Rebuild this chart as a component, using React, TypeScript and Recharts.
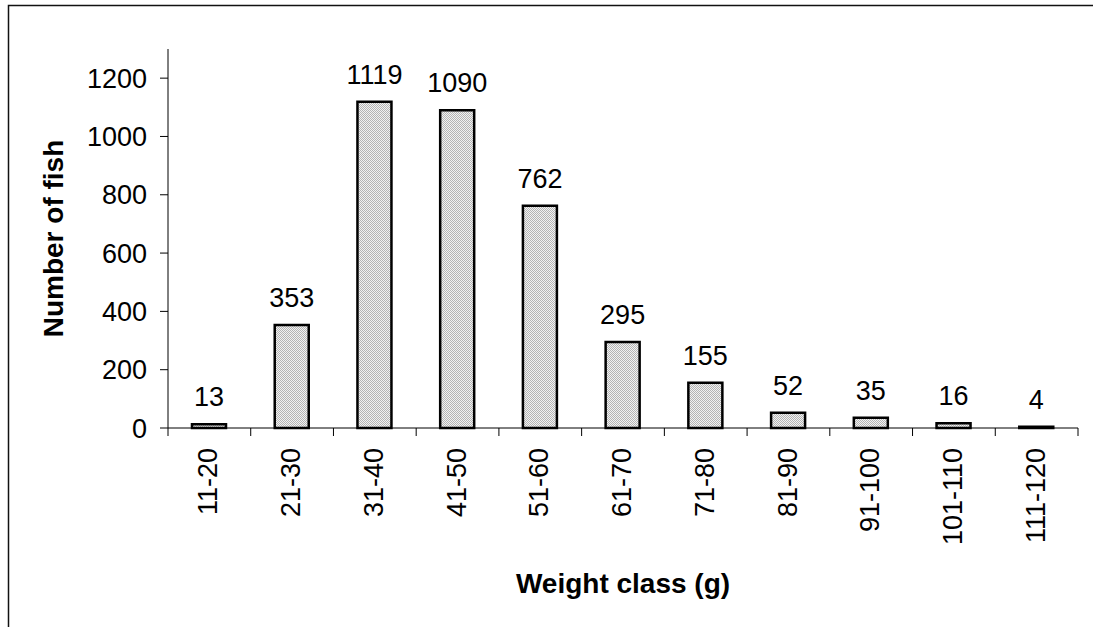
import React from "react";
import { BarChart, Bar, XAxis, YAxis, LabelList } from "recharts";

const weightClasses = [
  "11-20",
  "21-30",
  "31-40",
  "41-50",
  "51-60",
  "61-70",
  "71-80",
  "81-90",
  "91-100",
  "101-110",
  "111-120",
];
const fishCounts = [13, 353, 1119, 1090, 762, 295, 155, 52, 35, 16, 4];
const yTicks = [0, 200, 400, 600, 800, 1000, 1200];

const data = weightClasses.map((cls, i) => ({ cls, count: fishCounts[i] }));

const W = 1093;
const H = 627;
const margin = { top: 49, right: 15, left: 0, bottom: 0 };
const yAxisWidth = 168;
const xAxisHeight = 199;
const band = (W - yAxisWidth - margin.right) / weightClasses.length;

const font = "'Liberation Sans', Arial, sans-serif";

function XTick(props: any) {
  const { x, y, payload, index } = props;
  const left = x - band / 2;
  const last = index === weightClasses.length - 1;
  return (
    <g>
      <line x1={left} y1={y} x2={left} y2={y + 8} stroke="#000" strokeWidth={1} />
      {last && (
        <line x1={x + band / 2} y1={y} x2={x + band / 2} y2={y + 8} stroke="#000" strokeWidth={1} />
      )}
      <text
        x={0}
        y={0}
        transform={`translate(${x},${y + 20}) rotate(-90)`}
        textAnchor="end"
        dy="0.3em"
        fontSize={27}
        fontFamily={font}
        fill="#000"
      >
        {payload.value}
      </text>
    </g>
  );
}

export default function App() {
  return (
    <div style={{ position: "fixed", left: 0, top: 0, width: W, height: H, overflow: "hidden", background: "#fff" }}>
      <style>{"html,body{margin:0;overflow:hidden;background:#fff}"}</style>
      <div style={{ position: "absolute", left: 0, top: 0 }}>
        <BarChart width={W} height={H} data={data} margin={margin} barSize={34}>
          <defs>
            <pattern id="dots" width="2" height="2" patternUnits="userSpaceOnUse">
              <rect width="2" height="2" fill="#f2f2f2" />
              <rect x="0" y="0" width="1" height="1" fill="#b4b4b4" />
              <rect x="1" y="1" width="1" height="1" fill="#b4b4b4" />
            </pattern>
          </defs>
          <XAxis
            dataKey="cls"
            height={xAxisHeight}
            tickLine={false}
            tickSize={0}
            tickMargin={0}
            interval={0}
            axisLine={{ stroke: "#000", strokeWidth: 1 }}
            tick={<XTick />}
            label={{
              value: "Weight class (g)",
              position: "insideBottom",
              offset: 34,
              fontSize: 28,
              fontWeight: "bold",
              fontFamily: font,
              fill: "#000",
            }}
          />
          <YAxis
            width={yAxisWidth}
            domain={[0, 1300]}
            ticks={yTicks}
            interval={0}
            tickSize={8}
            tickMargin={13}
            axisLine={{ stroke: "#000", strokeWidth: 1 }}
            tickLine={{ stroke: "#000", strokeWidth: 1 }}
            tick={{ fontSize: 27, fontFamily: font, fill: "#000" }}
            label={{
              value: "Number of fish",
              angle: -90,
              position: "insideLeft",
              offset: 53,
              fontSize: 28,
              fontWeight: "bold",
              fontFamily: font,
              fill: "#000",
              style: { textAnchor: "middle" },
            }}
          />
          <Bar
            dataKey="count"
            fill="url(#dots)"
            stroke="#000"
            strokeWidth={2.5}
            isAnimationActive={false}
          >
            <LabelList
              dataKey="count"
              position="top"
              offset={18}
              fontSize={27}
              fontFamily={font}
              fill="#000"
            />
          </Bar>
        </BarChart>
      </div>
      <svg
        width={W}
        height={H}
        style={{ position: "absolute", left: 0, top: 0, pointerEvents: "none" }}
      >
        <polyline points={`8.5,${H} 8.5,5.5 ${W},5.5`} fill="none" stroke="#111" strokeWidth={1.5} />
      </svg>
    </div>
  );
}
